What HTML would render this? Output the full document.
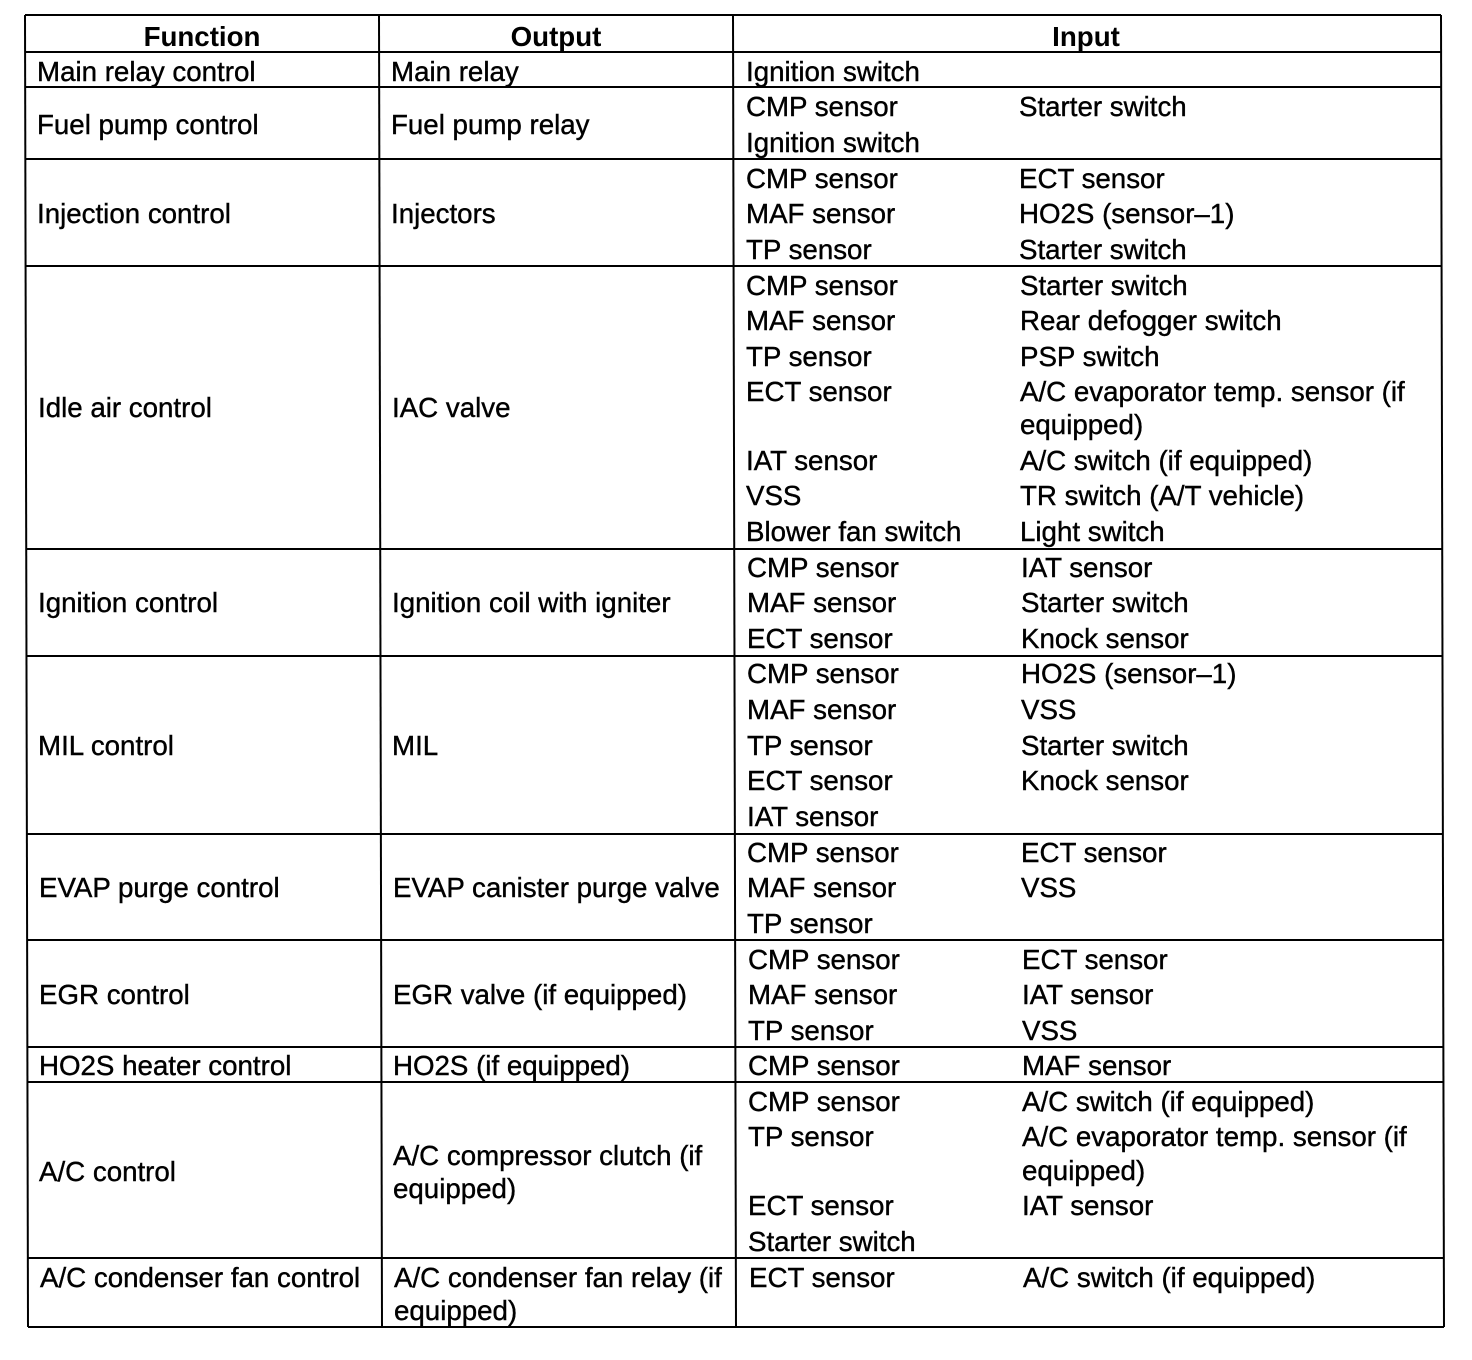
<!DOCTYPE html>
<html><head><meta charset="utf-8"><style>
html,body{margin:0;padding:0;background:#fff;}
svg{display:block}
text{font-family:"Liberation Sans",Arial,sans-serif;font-size:27.7px;fill:#000;stroke:#000;stroke-width:0.4px}
.h{font-weight:bold;text-anchor:middle;stroke-width:0}
</style></head><body>
<svg width="1472" height="1360" viewBox="0 0 1472 1360" xmlns="http://www.w3.org/2000/svg">
<g stroke="#000" stroke-width="2" fill="none">
<line x1="25" y1="15" x2="1441" y2="15"/>
<line x1="25" y1="52" x2="1441" y2="52"/>
<line x1="25" y1="87" x2="1441" y2="87"/>
<line x1="25" y1="159" x2="1441" y2="159"/>
<line x1="26" y1="266" x2="1442" y2="266"/>
<line x1="26" y1="549" x2="1442" y2="549"/>
<line x1="26" y1="656" x2="1442" y2="656"/>
<line x1="27" y1="834" x2="1443" y2="834"/>
<line x1="27" y1="940" x2="1443" y2="940"/>
<line x1="27" y1="1047" x2="1443" y2="1047"/>
<line x1="27" y1="1082" x2="1443" y2="1082"/>
<line x1="28" y1="1258" x2="1444" y2="1258"/>
<line x1="28" y1="1327" x2="1444" y2="1327"/>
<line x1="25" y1="15" x2="28" y2="1327"/>
<line x1="379" y1="15" x2="382" y2="1327"/>
<line x1="733" y1="15" x2="736" y2="1327"/>
<line x1="1441" y1="15" x2="1444" y2="1327"/>
</g>
<g transform="translate(0,2)">
<text class="h" x="202" y="44">Function</text>
<text class="h" x="556" y="44">Output</text>
<text class="h" x="1086" y="44">Input</text>

<text x="37" y="79">Main relay control</text>
<text x="391" y="79">Main relay</text>
<text x="746" y="79">Ignition switch</text>

<text x="37" y="132">Fuel pump control</text>
<text x="391" y="132">Fuel pump relay</text>
<text x="746" y="114">CMP sensor</text><text x="1019" y="114">Starter switch</text>
<text x="746" y="150">Ignition switch</text>

<text x="37" y="221">Injection control</text>
<text x="391" y="221">Injectors</text>
<text x="746" y="186">CMP sensor</text><text x="1019" y="186">ECT sensor</text>
<text x="746" y="221">MAF sensor</text><text x="1019" y="221">HO2S (sensor–1)</text>
<text x="746" y="257">TP sensor</text><text x="1019" y="257">Starter switch</text>

<text x="38" y="415">Idle air control</text>
<text x="392" y="415">IAC valve</text>
<text x="746" y="293">CMP sensor</text><text x="1020" y="293">Starter switch</text>
<text x="746" y="328">MAF sensor</text><text x="1020" y="328">Rear defogger switch</text>
<text x="746" y="364">TP sensor</text><text x="1020" y="364">PSP switch</text>
<text x="746" y="399">ECT sensor</text><text x="1020" y="399">A/C evaporator temp. sensor (if</text>
<text x="1020" y="432">equipped)</text>
<text x="746" y="468">IAT sensor</text><text x="1020" y="468">A/C switch (if equipped)</text>
<text x="746" y="503">VSS</text><text x="1020" y="503">TR switch (A/T vehicle)</text>
<text x="746" y="539">Blower fan switch</text><text x="1020" y="539">Light switch</text>

<text x="38" y="610">Ignition control</text>
<text x="392" y="610">Ignition coil with igniter</text>
<text x="747" y="575">CMP sensor</text><text x="1021" y="575">IAT sensor</text>
<text x="747" y="610">MAF sensor</text><text x="1021" y="610">Starter switch</text>
<text x="747" y="646">ECT sensor</text><text x="1021" y="646">Knock sensor</text>

<text x="38" y="753">MIL control</text>
<text x="392" y="753">MIL</text>
<text x="747" y="681">CMP sensor</text><text x="1021" y="681">HO2S (sensor–1)</text>
<text x="747" y="717">MAF sensor</text><text x="1021" y="717">VSS</text>
<text x="747" y="753">TP sensor</text><text x="1021" y="753">Starter switch</text>
<text x="747" y="788">ECT sensor</text><text x="1021" y="788">Knock sensor</text>
<text x="747" y="824">IAT sensor</text>

<text x="39" y="895">EVAP purge control</text>
<text x="393" y="895">EVAP canister purge valve</text>
<text x="747" y="860">CMP sensor</text><text x="1021" y="860">ECT sensor</text>
<text x="747" y="895">MAF sensor</text><text x="1021" y="895">VSS</text>
<text x="747" y="931">TP sensor</text>

<text x="39" y="1002">EGR control</text>
<text x="393" y="1002">EGR valve (if equipped)</text>
<text x="748" y="967">CMP sensor</text><text x="1022" y="967">ECT sensor</text>
<text x="748" y="1002">MAF sensor</text><text x="1022" y="1002">IAT sensor</text>
<text x="748" y="1038">TP sensor</text><text x="1022" y="1038">VSS</text>

<text x="39" y="1073">HO2S heater control</text>
<text x="393" y="1073">HO2S (if equipped)</text>
<text x="748" y="1073">CMP sensor</text><text x="1022" y="1073">MAF sensor</text>

<text x="39" y="1179">A/C control</text>
<text x="393" y="1163">A/C compressor clutch (if</text>
<text x="393" y="1196">equipped)</text>
<text x="748" y="1109">CMP sensor</text><text x="1022" y="1109">A/C switch (if equipped)</text>
<text x="748" y="1144">TP sensor</text><text x="1022" y="1144">A/C evaporator temp. sensor (if</text>
<text x="1022" y="1178">equipped)</text>
<text x="748" y="1213">ECT sensor</text><text x="1022" y="1213">IAT sensor</text>
<text x="748" y="1249">Starter switch</text>

<text x="40" y="1285">A/C condenser fan control</text>
<text x="394" y="1285">A/C condenser fan relay (if</text>
<text x="394" y="1318">equipped)</text>
<text x="749" y="1285">ECT sensor</text><text x="1023" y="1285">A/C switch (if equipped)</text>
</g>
</svg>
</body></html>
